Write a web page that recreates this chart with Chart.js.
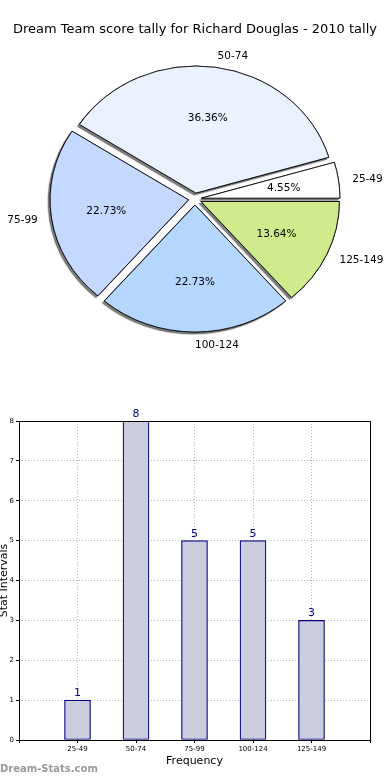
<!DOCTYPE html>
<html>
<head>
<meta charset="utf-8">
<script src="https://cdn.jsdelivr.net/npm/chart.js@4/dist/chart.umd.min.js"></script>
<style>
  body { margin: 0; background: #fff; }
  #wrap { position: relative; width: 390px; height: 780px; overflow: hidden; }
  #pie { position: absolute; left: 0; top: 0; }
  #bars { position: absolute; left: 0; top: 396px; }
  #mark { position: absolute; left: 0; top: 763px; font: bold 10px "DejaVu Sans"; color: #9a9a9a; }
</style>
</head>
<body>
<div id="wrap">
  <canvas id="pie" width="390" height="396"></canvas>
  <canvas id="bars" width="390" height="384"></canvas>
  <div id="mark">Dream-Stats.com</div>
</div>
<script>
const chartTitle = "Dream Team score tally for Richard Douglas - 2010 tally";
const categories = ["25-49", "50-74", "75-99", "100-124", "125-149"];
const counts = [1, 8, 5, 5, 3];
const sliceColors = ["#ffffff", "#eaf2ff", "#c5d8ff", "#b5d6ff", "#d0eb8c"];
const yTicks = [0, 1, 2, 3, 4, 5, 6, 7, 8];

const FONT = "DejaVu Sans";
const SX = 1.09;      // pie is stretched sideways
const EXPLODE = 6;    // px each slice is pulled out

const total = counts.reduce((a, b) => a + b, 0);
// matplotlib goes counter-clockwise from 3 o'clock, chart.js clockwise -> reverse
const pieLabels = categories.slice().reverse();
const pieData = counts.slice().reverse();
const pieColors = sliceColors.slice().reverse();

// draw the arcs ourselves: stretched, exploded, shadow pass first
const pieDeco = {
  id: "pieDeco",
  beforeDatasetDraw(chart, args) {
    const ctx = chart.ctx;
    const arcs = args.meta.data;
    const a = arcs[0];
    const pass = (shadow) => {
      arcs.forEach(arc => {
        const h = (arc.startAngle + arc.endAngle) / 2;
        ctx.save();
        if (shadow) {
          ctx.shadowColor = "rgba(0,0,0,0.5)";
          ctx.shadowOffsetX = -2;
          ctx.shadowOffsetY = 2;
          ctx.shadowBlur = 1;
        }
        ctx.translate(a.x, a.y);
        ctx.scale(SX, 1);
        ctx.translate(-a.x, -a.y);
        ctx.translate(Math.cos(h) * EXPLODE, Math.sin(h) * EXPLODE);
        arc.draw(ctx);
        ctx.restore();
      });
    };
    pass(true);
    pass(false);
    return false;
  },
  afterDatasetsDraw(chart) {
    const ctx = chart.ctx;
    ctx.save();
    ctx.fillStyle = "#000";
    ctx.font = "13px " + FONT;
    ctx.textAlign = "center";
    ctx.textBaseline = "middle";
    ctx.fillText(chartTitle, 195, 30);

    ctx.font = "10.5px " + FONT;
    chart.getDatasetMeta(0).data.forEach((arc, i) => {
      const h = (arc.startAngle + arc.endAngle) / 2;
      const c = Math.cos(h), s = Math.sin(h);
      const r = arc.outerRadius;
      const cx = arc.x + c * EXPLODE * SX;
      const cy = arc.y + s * EXPLODE + 1;
      ctx.textAlign = c > 0 ? "left" : "right";
      ctx.fillText(pieLabels[i], cx + 1.1 * r * c * SX, cy + 1.1 * r * s);
      ctx.textAlign = "center";
      const pct = (pieData[i] / total * 100).toFixed(2) + "%";
      ctx.fillText(pct, cx + 0.6 * r * c * SX, cy + 0.6 * r * s);
    });
    ctx.restore();
  }
};

new Chart(document.getElementById("pie"), {
  type: "pie",
  data: {
    labels: pieLabels,
    datasets: [{
      data: pieData,
      backgroundColor: pieColors,
      borderColor: "#000",
      borderWidth: 0.8,
      radius: 127
    }]
  },
  options: {
    responsive: false,
    animation: false,
    devicePixelRatio: 1,
    events: [],
    rotation: 90,
    layout: { padding: { top: 2 } },
    plugins: { legend: { display: false }, tooltip: { enabled: false } }
  },
  plugins: [pieDeco]
});

// bar chart: one empty slot each side so bars sit at 1..5 on a 0..6 axis
const barLabels = ["", ...categories, ""];
const barValues = [null, ...counts, null];

const barDeco = {
  id: "barDeco",
  afterDatasetsDraw(chart) {
    const ctx = chart.ctx;
    ctx.save();
    ctx.fillStyle = "#000080";
    ctx.font = "11px " + FONT;
    ctx.textAlign = "center";
    ctx.textBaseline = "alphabetic";
    chart.getDatasetMeta(0).data.forEach((bar, i) => {
      if (barValues[i] == null) return;
      ctx.fillText(String(barValues[i]), bar.x, bar.y - 4);
    });
    ctx.restore();
  },
  afterDraw(chart) {
    const a = chart.chartArea;
    const ctx = chart.ctx;
    ctx.save();
    ctx.strokeStyle = "#000";
    ctx.lineWidth = 1;
    ctx.strokeRect(Math.round(a.left) + 0.5, Math.round(a.top) + 0.5,
      Math.round(a.right - a.left), Math.round(a.bottom - a.top));
    ctx.restore();
  }
};

new Chart(document.getElementById("bars"), {
  type: "bar",
  data: {
    labels: barLabels,
    datasets: [{
      data: barValues,
      backgroundColor: "#ccccdf",
      borderColor: "#000080",
      borderWidth: 1.2,
      borderSkipped: false,
      barThickness: 26
    }]
  },
  options: {
    responsive: false,
    animation: false,
    devicePixelRatio: 1,
    events: [],
    layout: { padding: { top: 25, right: 20, left: 0, bottom: 0 } },
    plugins: { legend: { display: false }, tooltip: { enabled: false } },
    scales: {
      x: {
        offset: false,
        z: 1,
        afterFit: (s) => { s.height = 40; },
        grid: { offset: false, color: "#b8b8b8", lineWidth: 1, tickLength: 3, tickColor: "#000" },
        border: { display: false, dash: [1, 2] },
        ticks: { color: "#000", font: { family: FONT, size: 7 }, padding: 2, maxRotation: 0, autoSkip: false },
        title: { display: true, text: "Frequency", color: "#000", font: { family: FONT, size: 11 }, padding: { top: 0, bottom: 12 } }
      },
      y: {
        min: 0,
        max: 8,
        z: 1,
        afterFit: (s) => { s.width = 19; },
        afterBuildTicks: (s) => { s.ticks = yTicks.map(v => ({ value: v })); },
        grid: { color: "#b8b8b8", lineWidth: 1, tickLength: 3, tickColor: "#000" },
        border: { display: false, dash: [1, 2] },
        ticks: { color: "#000", font: { family: FONT, size: 7 }, padding: 2 },
        title: { display: true, text: "Stat Intervals", color: "#000", font: { family: FONT, size: 11 }, padding: { top: -2, bottom: 0 } }
      }
    }
  },
  plugins: [barDeco]
});
</script>
</body>
</html>
